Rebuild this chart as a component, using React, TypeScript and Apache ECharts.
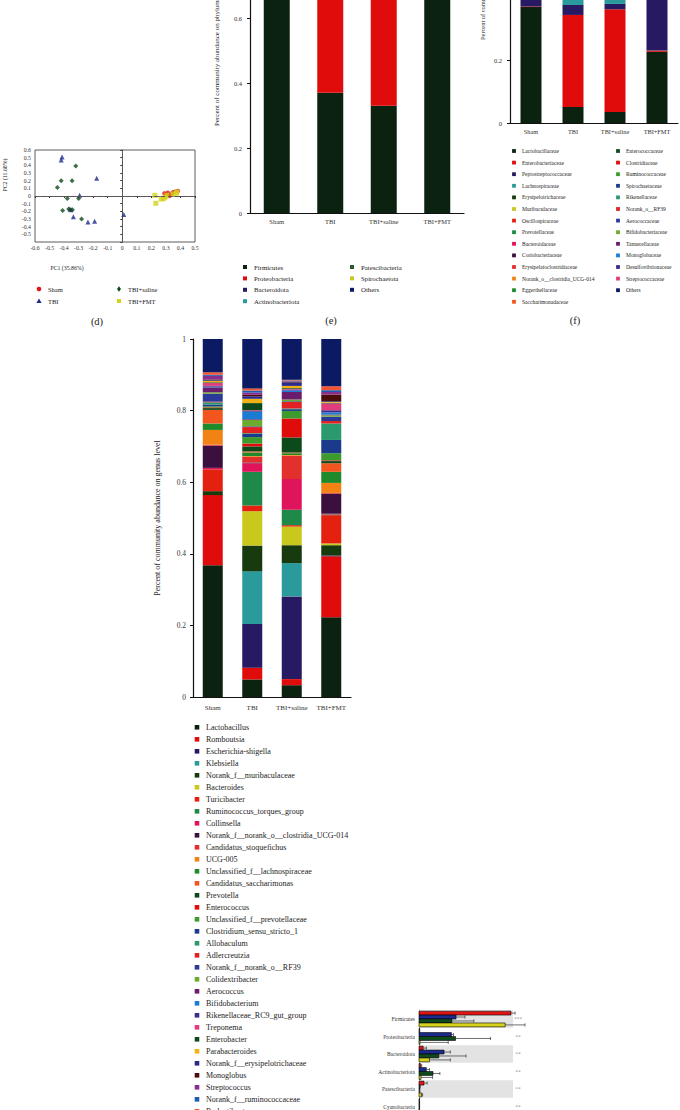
import React, { useEffect, useRef } from 'react';
import * as echarts from 'echarts';

const FONT = 'Liberation Serif';
const groups = ['Sham', 'TBI', 'TBI+saline', 'TBI+FMT'];
const groupColors = ['#e01414', '#1c2a8c', '#0f4a1c', '#d6d21e'];

// ---- (d) PCoA scatter ----
const dSham = [[0.29, 0.034], [0.313, 0.043], [0.336, 0.02], [0.348, 0.047], [0.364, 0.056], [0.382, 0.065], [0.325, 0.0], [0.302, 0.013]];
const dTBI = [[-0.414, 0.51], [-0.42, 0.47], [-0.176, 0.23], [-0.293, 0.01], [-0.36, -0.17], [-0.336, -0.27], [-0.236, -0.34], [-0.19, -0.33], [0.01, -0.24], [-0.352, -0.18]];
const dSaline = [[-0.32, 0.39], [-0.42, 0.2], [-0.345, 0.2], [-0.446, 0.11], [-0.378, -0.034], [-0.3, -0.034], [-0.41, -0.19], [-0.368, -0.17], [-0.343, -0.18], [-0.28, -0.3]];
const dFMT = [[0.224, 0.009], [0.231, -0.095], [0.268, -0.039], [0.284, -0.034], [0.295, -0.017], [0.307, 0.009], [0.348, 0.026], [0.371, 0.034], [0.375, 0.052]];
const dSymbols = ['circle', 'triangle', 'diamond', 'rect'];
const dColors = ['#e01414', '#1c2a8c', '#0f4a1c', '#d6d21e'];

// ---- palette shared by (e),(f),(g) ----
const palette = ['#0b2210', '#e00c0c', '#271a62', '#2a9a9c', '#173a0e', '#c9c81c', '#e4200e', '#1d8a4a', '#e0145a', '#3b0f3e', '#e2302c', '#f28214', '#1f8a2c', '#f2561e', '#0c4a1c', '#e00c0c', '#3d9a2c', '#1b3a8c', '#2a9a6c', '#e22222', '#2b3a9a', '#6cab2c', '#6c1c6c', '#1a7cd2', '#3c2c8c', '#e23c7c', '#0c4a1c', '#f2b214', '#2a2a8a', '#4c0c0c', '#8c2c8c', '#1c5cb2', '#f25434'];
const othersColor = '#0c1a64';

// ---- (e) phylum ----
const phylumNames = ['Firmicutes', 'Proteobacteria', 'Bacteroidota', 'Actinobacteriota', 'Patescibacteria', 'Spirochaetota', 'Others'];
const phylumColors = ['#0b2210', '#e00c0c', '#271a62', '#2a9a9c', '#2c5a2c', '#c9c81c', '#0c1a6c'];
const phylumValues = [
  [0.905, 0.37, 0.33, 0.79],
  [0.006, 0.34, 0.38, 0.01],
  [0.04, 0.22, 0.17, 0.13],
  [0.016, 0.055, 0.105, 0.04],
  [0.025, 0.008, 0.006, 0.025],
  [0.003, 0.004, 0.005, 0.002],
  [0.005, 0.003, 0.004, 0.003],
];

// ---- (f) family ----
const familyNames = ['Lactobacillaceae', 'Enterobacteriaceae', 'Peptostreptococcaceae', 'Lachnospiraceae', 'Erysipelotrichaceae', 'Muribaculaceae', 'Oscillospiraceae', 'Prevotellaceae', 'Bacteroidaceae', 'Coriobacteriaceae', 'Erysipelatoclostridiaceae', 'Norank_o__clostridia_UCG-014', 'Eggerthellaceae', 'Saccharimonadaceae', 'Enterococcaceae', 'Clostridiaceae', 'Ruminococcaceae', 'Spirochaetaceae', 'Rikenellaceae', 'Norank_o__RF39', 'Aerococcaceae', 'Bifidobacteriaceae', 'Tannerellaceae', 'Monoglobaceae', 'Desulfovibrionaceae', 'Streptococcaceae', 'Others'];
const familyValues = [
  [0.368, 0.051, 0.035, 0.226],
  [0.002, 0.292, 0.326, 0.004],
  [0.196, 0.032, 0.017, 0.17],
  [0.09, 0.14, 0.09, 0.12],
  [0.07, 0.03, 0.03, 0.06],
  [0.011, 0.072, 0.05, 0.03],
  [0.06, 0.03, 0.03, 0.07],
  [0.01, 0.05, 0.08, 0.03],
  [0.001, 0.096, 0.052, 0.005],
  [0.005, 0.024, 0.086, 0.01],
  [0.02, 0.016, 0.065, 0.03],
  [0.062, 0.002, 0.002, 0.056],
  [0.004, 0.01, 0.005, 0.01],
  [0.038, 0.003, 0.002, 0.024],
  [0.002, 0.008, 0.053, 0.002],
  [0.005, 0.017, 0.018, 0.007],
  [0.004, 0.01, 0.006, 0.01],
  [0.003, 0.002, 0.002, 0.019],
  [0.006, 0.005, 0.004, 0.046],
  [0.022, 0.002, 0.002, 0.012],
  [0.014, 0.002, 0.021, 0.002],
  [0.002, 0.021, 0.004, 0.006],
  [0.004, 0.012, 0.008, 0.002],
  [0.002, 0.004, 0.002, 0.019],
  [0.003, 0.003, 0.003, 0.005],
  [0.01, 0.006, 0.001, 0.007],
  [0.04, 0.04, 0.04, 0.04],
];

// ---- (g) genus ----
const genusNames = ['Lactobacillus', 'Romboutsia', 'Escherichia-shigella', 'Klebsiella', 'Norank_f__muribaculaceae', 'Bacteroides', 'Turicibacter', 'Ruminococcus_torques_group', 'Collinsella', 'Norank_f__norank_o__clostridia_UCG-014', 'Candidatus_stoquefichus', 'UCG-005', 'Unclassified_f__lachnospiraceae', 'Candidatus_saccharimonas', 'Prevotella', 'Enterococcus', 'Unclassified_f__prevotellaceae', 'Clostridium_sensu_stricto_1', 'Allobaculum', 'Adlercreutzia', 'Norank_f__norank_o__RF39', 'Colidextribacter', 'Aerococcus', 'Bifidobacterium', 'Rikenellaceae_RC9_gut_group', 'Treponema', 'Enterobacter', 'Parabacteroides', 'Norank_f__erysipelotrichaceae', 'Monoglobus', 'Streptococcus', 'Norank_f__ruminococcaceae', 'Rodentibacter', 'Others'];
const genusValues = [
  [0.368, 0.049, 0.033, 0.223],
  [0.196, 0.033, 0.017, 0.17],
  [0, 0.122, 0.231, 0.002],
  [0, 0.147, 0.093, 0],
  [0.011, 0.072, 0.05, 0.029],
  [0, 0.096, 0.052, 0.005],
  [0.061, 0.016, 0.004, 0.079],
  [0, 0.094, 0.043, 0.002],
  [0.004, 0.024, 0.086, 0.002],
  [0.062, 0.002, 0, 0.056],
  [0.003, 0.016, 0.065, 0.002],
  [0.041, 0.002, 0.002, 0.028],
  [0.018, 0.01, 0.005, 0.031],
  [0.038, 0.003, 0.002, 0.024],
  [0.005, 0.014, 0.042, 0.006],
  [0.002, 0.008, 0.053, 0.002],
  [0.003, 0.018, 0.021, 0.02],
  [0.005, 0.009, 0.005, 0.037],
  [0.006, 0.002, 0.002, 0.046],
  [0.002, 0.017, 0.018, 0.007],
  [0.022, 0.002, 0.002, 0.012],
  [0.004, 0.018, 0.005, 0.004],
  [0.014, 0.002, 0.021, 0.002],
  [0.002, 0.021, 0.004, 0.006],
  [0.002, 0.002, 0.003, 0.006],
  [0.008, 0.002, 0.002, 0.019],
  [0.002, 0.02, 0.002, 0.002],
  [0.004, 0.012, 0.006, 0.002],
  [0.002, 0.007, 0.01, 0.002],
  [0.002, 0.004, 0.002, 0.019],
  [0.01, 0.006, 0.001, 0.007],
  [0.003, 0.006, 0.002, 0.005],
  [0.007, 0.006, 0.002, 0.011],
  [0.093, 0.138, 0.114, 0.132],
];

// ---- (h) phylum comparison ----
const hCats = ['Firmicutes', 'Proteobacteria', 'Bacteroidota', 'Actinobacteriota', 'Patescibacteria', 'Cyanobacteria'];
const hSham = [0.88, 0.005, 0.04, 0.016, 0.048, 0.003];
const hShamErr = [0.04, 0.002, 0.03, 0.01, 0.03, 0.001];
const hTBI = [0.355, 0.31, 0.24, 0.07, 0.008, 0.002];
const hTBIErr = [0.085, 0.02, 0.06, 0.03, 0.004, 0.001];
const hSaline = [0.315, 0.35, 0.19, 0.134, 0.005, 0.002];
const hSalineErr = [0.21, 0.335, 0.26, 0.066, 0.003, 0.001];
const hFMT = [0.825, 0.01, 0.1, 0.02, 0.025, 0.002];
const hFMTErr = [0.19, 0.27, 0.2, 0.11, 0.01, 0.001];
const hSig = ['***', '**', '**', '**', '**', '**'];

function colorOf(i: number, n: number) {
  return i === n - 1 ? othersColor : palette[i];
}

function buildOption() {
  const txt = '#333';
  const catX = (gi: number, fs: number, margin: number) => ({
    type: 'category', gridIndex: gi, data: groups,
    axisLine: { lineStyle: { color: '#111', width: 1.2 } },
    axisTick: { alignWithLabel: true, length: 3, lineStyle: { color: '#111' } },
    axisLabel: { fontSize: fs, fontFamily: FONT, color: txt, margin, interval: 0 },
  });
  const valY = (gi: number, fs: number, margin: number) => ({
    type: 'value', gridIndex: gi, min: 0, max: 1, interval: 0.2,
    axisLine: { show: true, lineStyle: { color: '#111', width: 1.2 } },
    axisTick: { show: true, length: 3, lineStyle: { color: '#111' } },
    axisLabel: { fontSize: fs, fontFamily: FONT, color: txt, margin },
    splitLine: { show: false },
  });
  const numFmt = (v: number) => (Math.abs(v) < 1e-9 ? '0' : v.toFixed(1));

  const series: any[] = [];
  // (d)
  [dSham, dTBI, dSaline, dFMT].forEach((pts, k) => {
    series.push({
      type: 'scatter', name: groups[k], xAxisIndex: 0, yAxisIndex: 0,
      data: pts, symbol: dSymbols[k], symbolSize: k === 0 ? 4.5 : 5,
      itemStyle: { color: dColors[k] },
      markLine: k === 0 ? {
        silent: true, symbol: 'none', label: { show: false },
        lineStyle: { color: '#555', type: [4, 3], width: 1 },
        data: [{ xAxis: 0 }, { yAxis: 0 }],
      } : undefined,
    });
  });
  // (e)
  phylumNames.forEach((n, i) => {
    series.push({
      type: 'bar', name: n, stack: 'phylum', xAxisIndex: 1, yAxisIndex: 1,
      barWidth: 26, data: phylumValues[i], itemStyle: { color: phylumColors[i] },
    });
  });
  // (f)
  familyNames.forEach((n, i) => {
    series.push({
      type: 'bar', name: n, stack: 'family', xAxisIndex: 2, yAxisIndex: 2,
      barWidth: 21, data: familyValues[i], itemStyle: { color: colorOf(i, familyNames.length) },
    });
  });
  // (g)
  genusNames.forEach((n, i) => {
    series.push({
      type: 'bar', name: n, stack: 'genus', xAxisIndex: 3, yAxisIndex: 3,
      barWidth: 20, data: genusValues[i], itemStyle: { color: colorOf(i, genusNames.length) },
    });
  });
  // (h)
  const hVals = [hSham, hTBI, hSaline, hFMT];
  const hErrs = [hShamErr, hTBIErr, hSalineErr, hFMTErr];
  const hData: any[] = [];
  hCats.forEach((_, c) => {
    hVals.forEach((arr, g) => hData.push([arr[c], c, g, hErrs[g][c]]));
  });
  series.push({
    type: 'custom', xAxisIndex: 4, yAxisIndex: 4, clip: false,
    encode: { x: 0, y: 1 }, data: hData,
    renderItem: (params: any, api: any) => {
      const v = api.value(0), c = api.value(1), g = api.value(2), e = api.value(3);
      const p0 = api.coord([0, c]);
      const p1 = api.coord([v, c]);
      const pe = api.coord([v + e, c]);
      const band = api.size([0, 1])[1];
      const gh = band * 0.9;
      const bh = gh / 4;
      const y = p0[1] - gh / 2 + g * bh;
      const cy = y + bh / 2;
      const children: any[] = [];
      if (g === 0 && c % 2 === 0) {
        const cs = params.coordSys;
        children.push({ type: 'rect', shape: { x: cs.x, y: p0[1] - band / 2, width: cs.width, height: band }, style: { fill: '#e3e3e3' } });
      }
      children.push(
        { type: 'rect', shape: { x: p0[0], y, width: Math.max(p1[0] - p0[0], 0.6), height: bh }, style: { fill: groupColors[g], stroke: '#000', lineWidth: 0.6 } },
        { type: 'line', shape: { x1: p1[0], y1: cy, x2: pe[0], y2: cy }, style: { stroke: '#333', lineWidth: 0.7 } },
        { type: 'line', shape: { x1: pe[0], y1: y + bh * 0.1, x2: pe[0], y2: y + bh * 0.9 }, style: { stroke: '#333', lineWidth: 0.7 } },
      );
      return { type: 'group', children };
    },
  });
  series.push({
    type: 'scatter', xAxisIndex: 4, yAxisIndex: 4, clip: false, silent: true,
    symbolSize: 1, itemStyle: { color: 'rgba(0,0,0,0)' },
    data: hCats.map((_, i) => [0.948, i]),
    label: { show: true, position: 'inside', formatter: (p: any) => hSig[p.dataIndex], fontSize: 5.5, fontFamily: FONT, color: '#777' },
  });

  // graphics: legends, labels, titles
  const g: any[] = [];
  const text = (x: number, y: number, s: string, fs: number, extra: any = {}) => ({
    type: 'text', x, y, silent: true, ...extra,
    style: { text: s, fontSize: fs, fontFamily: FONT, fill: '#222', align: 'left', verticalAlign: 'middle', ...(extra.style || {}) },
  });
  const sq = (cx: number, cy: number, s: number, color: string) => ({
    type: 'rect', silent: true, shape: { x: cx - s / 2, y: cy - s / 2, width: s, height: s }, style: { fill: color },
  });
  // (d) legend
  const dPos = [[39, 289], [39, 301], [119, 289], [119, 301]];
  groups.forEach((n, k) => {
    const [cx, cy] = dPos[k];
    let shape: any;
    if (k === 0) shape = { type: 'circle', shape: { cx, cy, r: 2.3 }, style: { fill: dColors[k] } };
    else if (k === 1) shape = { type: 'polygon', shape: { points: [[cx, cy - 2.6], [cx + 2.6, cy + 2], [cx - 2.6, cy + 2]] }, style: { fill: dColors[k] } };
    else if (k === 2) shape = { type: 'polygon', shape: { points: [[cx, cy - 2.8], [cx + 2, cy], [cx, cy + 2.8], [cx - 2, cy]] }, style: { fill: dColors[k] } };
    else shape = sq(cx, cy, 4, dColors[k]);
    shape.silent = true;
    g.push(shape);
    g.push(text(cx + 9, cy, n, 6.5));
  });
  g.push(text(97, 321, '(d)', 10.5, { style: { align: 'center' } }));
  g.push(text(67, 268, 'PC1 (35.86%)', 5.8, { style: { align: 'center' } }));
  g.push(text(5, 175, 'PC2 (11.68%)', 5.8, { rotation: Math.PI / 2, style: { align: 'center' } }));

  // (e) legend
  phylumNames.forEach((n, i) => {
    const col = i < 4 ? 0 : 1;
    const row = i < 4 ? i : i - 4;
    const cx = col === 0 ? 245 : 352;
    const cy = 267 + row * 11.4;
    g.push(sq(cx, cy, 4, phylumColors[i]));
    g.push(text(cx + 9, cy, n, 6.8));
  });
  g.push(text(331, 320, '(e)', 10.5, { style: { align: 'center' } }));
  g.push(text(217, 126, 'Percent of community abundance on phylum level', 7, { rotation: Math.PI / 2 }));

  // (f) legend
  familyNames.forEach((n, i) => {
    const col = i < 14 ? 0 : 1;
    const row = i < 14 ? i : i - 14;
    const cx = col === 0 ? 514 : 618;
    const cy = 151 + row * 11.6;
    g.push(sq(cx, cy, 3.8, colorOf(i, familyNames.length)));
    g.push(text(cx + 8, cy, n, 5.5));
  });
  g.push(text(575, 320, '(f)', 10.5, { style: { align: 'center' } }));
  g.push(text(482, 40, 'Percent of community abundance on family level', 6.4, { rotation: Math.PI / 2 }));

  // (g) legend
  genusNames.slice(0, genusNames.length - 1).forEach((n, i) => {
    const cx = 197;
    const cy = 727.3 + i * 12;
    g.push(sq(cx, cy, 4.6, palette[i]));
    g.push(text(206, cy, n, 8));
  });
  g.push(text(157, 518, 'Percent of community abundance on genus level', 8, { rotation: Math.PI / 2, style: { align: 'center' } }));

  const noBounds = { outerBoundsMode: 'none', containLabel: false };
  return {
    animation: false,
    backgroundColor: '#ffffff',
    textStyle: { fontFamily: FONT },
    grid: [
      { left: 35, top: 150, width: 160, height: 92, show: true, borderColor: '#333', borderWidth: 0.8, ...noBounds },
      { left: 250, top: -112, width: 214, height: 325, ...noBounds },
      { left: 510, top: -192, width: 168, height: 315, ...noBounds },
      { left: 193, top: 339, width: 158, height: 358, ...noBounds },
      { left: 419, top: 1010.25, width: 94, height: 105, ...noBounds },
    ],
    xAxis: [
      {
        type: 'value', gridIndex: 0, min: -0.6, max: 0.5, interval: 0.1,
        axisLine: { lineStyle: { color: '#333', width: 0.8 } },
        axisTick: { length: 2, lineStyle: { color: '#333' } },
        axisLabel: { fontSize: 5.8, fontFamily: FONT, color: txt, margin: 3, formatter: numFmt },
        splitLine: { show: false },
      },
      catX(1, 6.5, 5),
      catX(2, 6.3, 5),
      catX(3, 7, 7),
      { type: 'value', gridIndex: 4, min: 0, max: 0.9, show: false },
    ],
    yAxis: [
      {
        type: 'value', gridIndex: 0, min: -0.6, max: 0.6, interval: 0.1,
        axisLine: { lineStyle: { color: '#333', width: 0.8 } },
        axisTick: { length: 2, lineStyle: { color: '#333' } },
        axisLabel: { fontSize: 5.8, fontFamily: FONT, color: txt, margin: 4, formatter: (v: number) => (v < -0.55 ? '' : numFmt(v)) },
        splitLine: { show: false },
      },
      valY(1, 6.5, 8),
      valY(2, 6.5, 8),
      valY(3, 7.5, 7),
      {
        type: 'category', gridIndex: 4, data: hCats, inverse: true,
        axisLine: { show: true, lineStyle: { color: '#111', width: 0.8 } },
        axisTick: { show: false },
        axisLabel: { fontSize: 5.5, fontFamily: FONT, color: txt, margin: 4, interval: 0 },
        splitLine: { show: false },
      },
    ],
    series,
    graphic: g,
  };
}

export default function App() {
  const ref = useRef<HTMLDivElement>(null);
  useEffect(() => {
    if (!ref.current) return;
    const chart = echarts.init(ref.current, undefined, { renderer: 'svg' });
    chart.setOption(buildOption() as any);
    return () => chart.dispose();
  }, []);
  return (
    <div
      ref={ref}
      style={{ position: 'absolute', left: 0, top: 0, width: 680, height: 1110, background: '#fff' }}
    />
  );
}
